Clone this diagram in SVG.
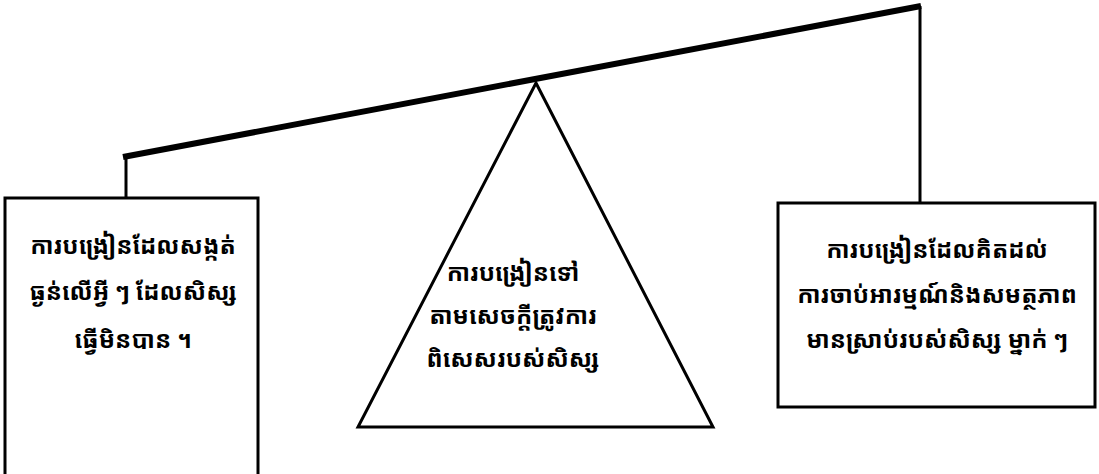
<svg xmlns="http://www.w3.org/2000/svg" width="1099" height="474" viewBox="0 0 1099 474">
<style>
.shape{fill:#fff;stroke:#000;stroke-width:3}
.link{fill:none;stroke:#000;stroke-width:3}
.beam{fill:none;stroke:#000;stroke-width:6}
text{font-family:"Noto Sans Khmer","Khmer OS Battambang","Khmer OS","Noto Sans","DejaVu Sans",sans-serif;font-size:24px;font-weight:bold;fill:#000;text-anchor:middle}
</style>
<rect width="1099" height="474" fill="#fff"/>
<g id="connectors">
<line class="beam" x1="123" y1="157" x2="921" y2="6"/>
<line class="link" x1="126" y1="157" x2="126" y2="198"/>
<line class="link" x1="920" y1="6" x2="920" y2="203"/>
</g>
<g id="node-left">
<rect class="shape" x="5" y="198" width="253" height="290"/>
<text x="133" y="254">ការបង្រៀនដែលសង្កត់</text>
<text x="133" y="300">ធ្ងន់លើអ្វី ៗ ដែលសិស្ស</text>
<text x="133" y="348">ធ្វើមិនបាន ។</text>
</g>
<g id="node-center">
<polygon class="shape" points="536,83 713,427 358,427"/>
<text x="513" y="281">ការបង្រៀនទៅ</text>
<text x="513" y="324">តាមសេចក្តីត្រូវការ</text>
<text x="513" y="367">ពិសេសរបស់សិស្ស</text>
</g>
<g id="node-right">
<rect class="shape" x="778" y="203" width="317" height="204"/>
<text x="937" y="258">ការបង្រៀនដែលគិតដល់</text>
<text x="937" y="303">ការចាប់អារម្មណ៍និងសមត្ថភាព</text>
<text x="937" y="348">មានស្រាប់របស់សិស្ស ម្នាក់ ៗ</text>
</g>
</svg>
